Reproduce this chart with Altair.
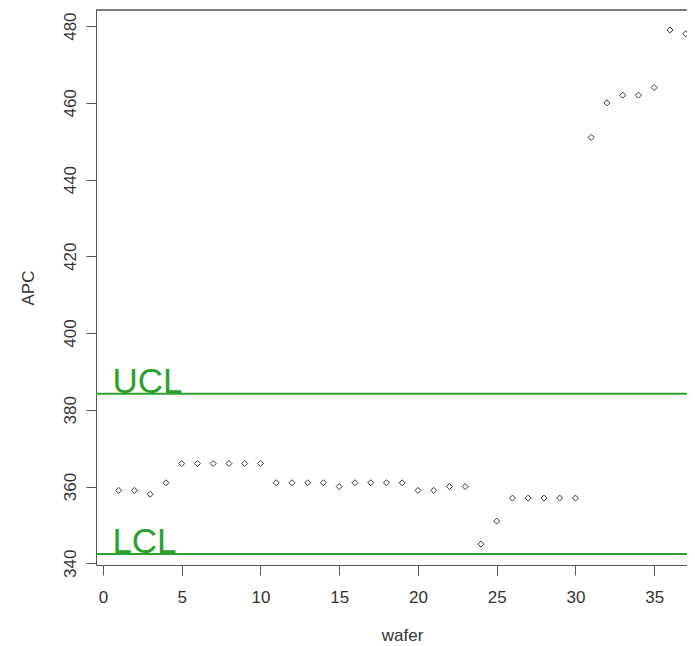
import altair as alt
import pandas as pd

# ---- data ----
wafer = list(range(1, 38))
apc = [359, 359, 358, 361, 366, 366, 366, 366, 366, 366,
       361, 361, 361, 361, 360, 361, 361, 361, 361, 359,
       359, 360, 360, 345, 351, 357, 357, 357, 357, 357,
       451, 460, 462, 462, 464, 479, 478]
limit_names = ["UCL", "LCL"]
limit_values = [384.2, 342.4]
limit_label_x = [0.6, 0.6]
x_ticks = [0, 5, 10, 15, 20, 25, 30, 35]
y_ticks = [340, 360, 380, 400, 420, 440, 460, 480]

df = pd.DataFrame({"wafer": wafer, "APC": apc})
lim = pd.DataFrame({"name": limit_names, "value": limit_values, "lx": limit_label_x})

FONT = "Liberation Sans"
GREEN = "#2ca02c"
TXT = "#333333"
LINE = "#555555"

xscale = alt.Scale(domain=[-0.44, 37.084], nice=False, zero=False)
yscale = alt.Scale(domain=[339.56, 484.2], nice=False, zero=False)

xaxis = alt.Axis(values=x_ticks, title="wafer", grid=False, tickSize=10,
                 labelPadding=14, labelFontSize=17, labelFont=FONT,
                 labelColor=TXT, domainColor=LINE, tickColor=LINE,
                 titleFont=FONT, titleFontSize=17, titleFontWeight="normal",
                 titleColor=TXT, titleX=306, titleY=75,
                 titleBaseline="alphabetic", labelFlush=False)
yaxis = alt.Axis(values=y_ticks, title="APC", grid=False, tickSize=10,
                 labelAngle=270, labelAlign="center", labelBaseline="alphabetic",
                 labelPadding=11, labelFontSize=17, labelFont=FONT,
                 labelColor=TXT, domainColor=LINE, tickColor=LINE,
                 titleFont=FONT, titleFontSize=17, titleFontWeight="normal",
                 titleColor=TXT, titleX=-63, titleY=277.5, titleAngle=270,
                 titleBaseline="alphabetic", labelFlush=False)

points = alt.Chart(df).mark_point(
    shape="diamond", filled=False, size=36, stroke="#333333",
    strokeWidth=1, opacity=1
).encode(
    x=alt.X("wafer:Q", scale=xscale, axis=xaxis),
    y=alt.Y("APC:Q", scale=yscale, axis=yaxis),
)

rules = alt.Chart(lim).mark_rule(color=GREEN, strokeWidth=2).encode(
    y=alt.Y("value:Q", scale=yscale)
)

labels = alt.Chart(lim).mark_text(
    align="left", baseline="alphabetic", dy=-1, fontSize=35,
    font=FONT, color=GREEN
).encode(
    x=alt.X("lx:Q", scale=xscale),
    y=alt.Y("value:Q", scale=yscale),
    text="name:N",
)

top_border = alt.Chart(lim).mark_rule(color=LINE, strokeWidth=1).encode(
    y=alt.value(0)
)

chart = alt.layer(rules, labels, points, top_border).properties(
    width=591, height=555,
    autosize=alt.AutoSizeParams(type="none"),
    padding={"left": 88, "top": 2, "right": 0, "bottom": 79},
).configure_view(stroke=None).configure(background="white")

chart.save("out.html", embed_options={"renderer": "svg", "actions": False})
